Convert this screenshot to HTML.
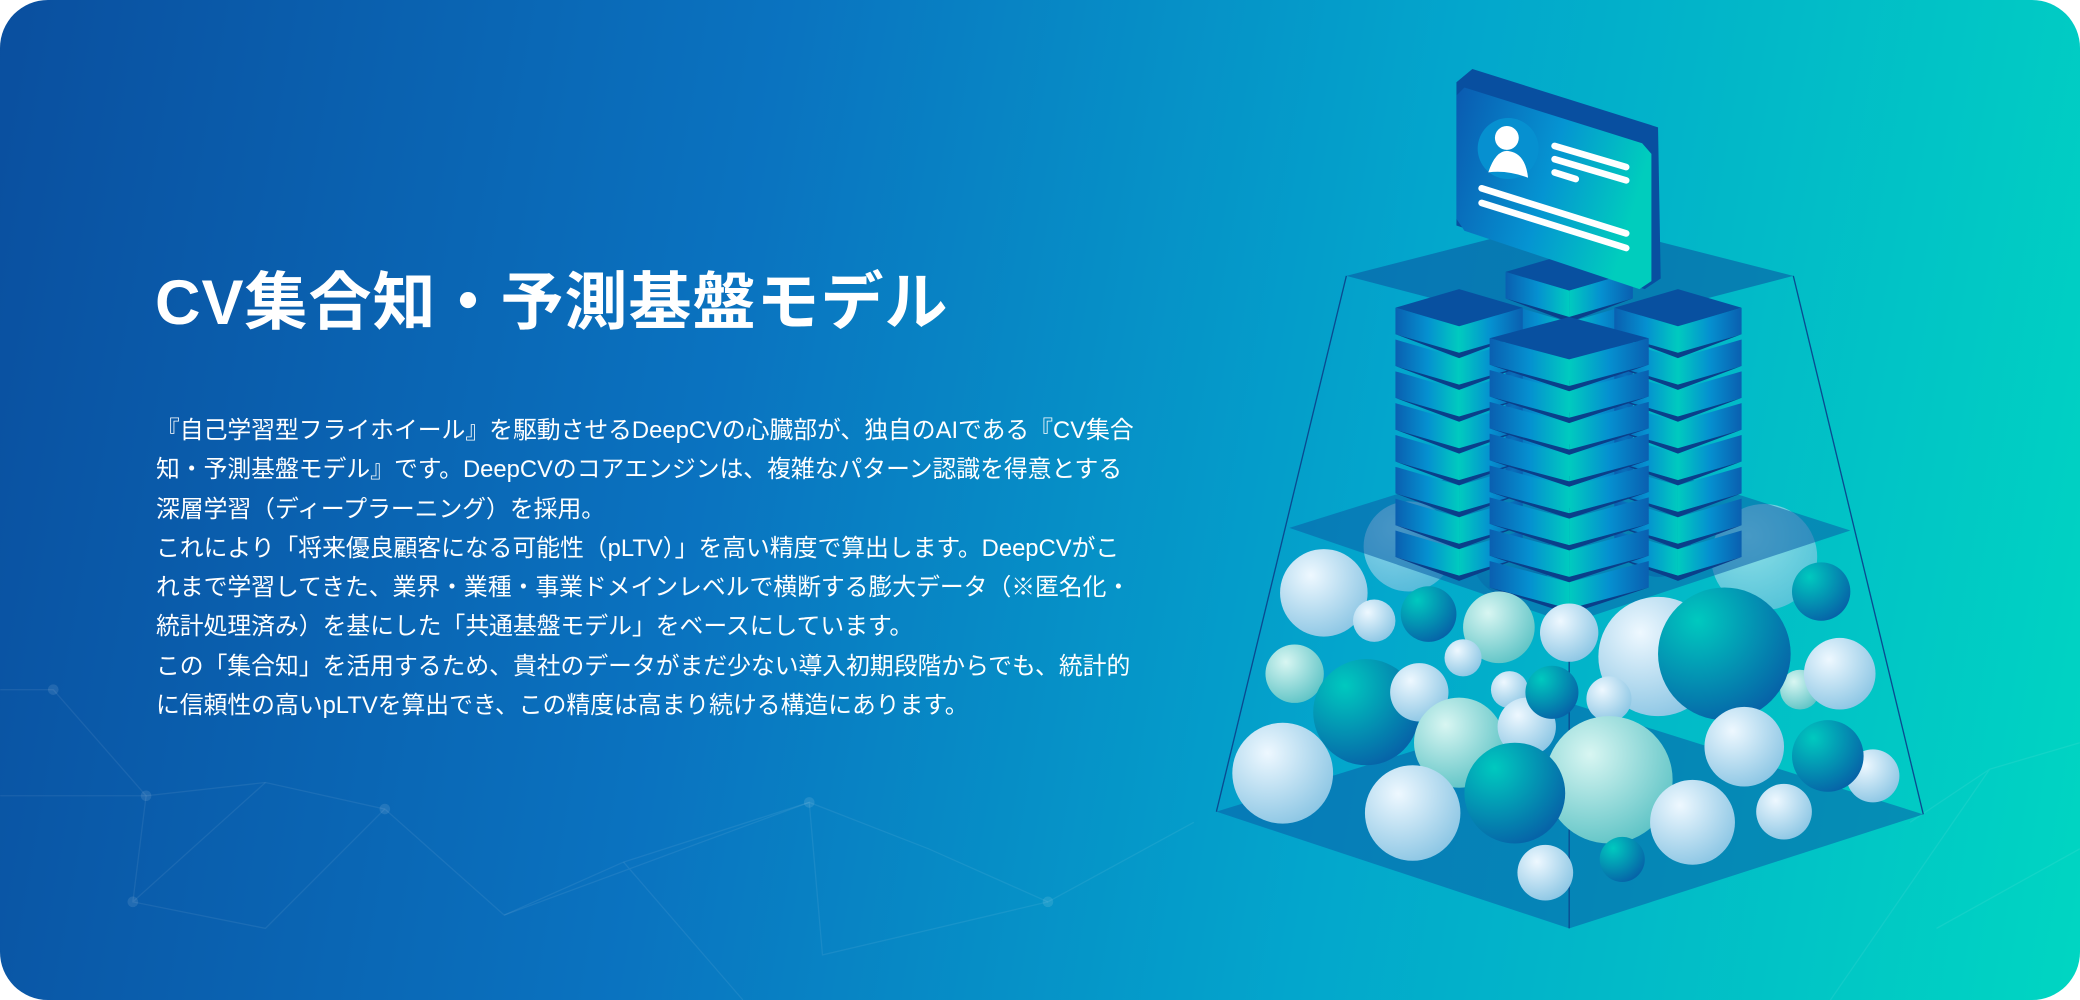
<!DOCTYPE html>
<html><head><meta charset="utf-8"><style>
html,body{margin:0;padding:0;background:#fff;}
#c{position:relative;width:2080px;height:1000px;border-radius:48px;overflow:hidden;
background:linear-gradient(100deg,#0a4f9f 0%,#0a73c0 35%,#03a6cc 65%,#00d6c2 100%);}
svg{position:absolute;left:0;top:0;}
h1{position:absolute;left:155px;top:272px;margin:0;color:#fff;font:700 63px/1 "Liberation Sans","Noto Sans CJK JP",sans-serif;letter-spacing:1px;white-space:nowrap;}
#t{position:absolute;left:156px;top:411px;color:#fff;font:400 23.8px/39.3px "Liberation Sans","Noto Sans CJK JP",sans-serif;white-space:nowrap;}
</style></head><body><div id="c">
<svg width="2080" height="1000" viewBox="0 0 1568 754">
<defs>
<radialGradient id="lt" cx="0.35" cy="0.3" r="0.75"><stop offset="0" stop-color="#eef8ff"/><stop offset="1" stop-color="#8cc6e4"/></radialGradient>
<radialGradient id="tl" cx="0.3" cy="0.25" r="0.8"><stop offset="0" stop-color="#00c9bf"/><stop offset="1" stop-color="#0664a8"/></radialGradient>
<radialGradient id="mt" cx="0.35" cy="0.3" r="0.75"><stop offset="0" stop-color="#d8f6f2"/><stop offset="1" stop-color="#5fc4c6"/></radialGradient>
<linearGradient id="lf" x1="0" x2="1"><stop offset="0" stop-color="#0a5fb0"/><stop offset="0.5" stop-color="#0590d0"/><stop offset="1" stop-color="#00cbbf"/></linearGradient>
<linearGradient id="rf" x1="0" x2="1"><stop offset="0" stop-color="#00cbbf"/><stop offset="0.5" stop-color="#0590d0"/><stop offset="1" stop-color="#0a5fb0"/></linearGradient>
<linearGradient id="cd" x1="0" x2="1" y1="0" y2="0.3"><stop offset="0" stop-color="#0a5ab0"/><stop offset="0.55" stop-color="#0594d2"/><stop offset="1" stop-color="#00cdbd"/></linearGradient>
</defs>
<g stroke="#ffffff" stroke-opacity="0.07" stroke-width="1" fill="none">
<path d="M0 520 L40 520 L110 600 L200 590 L290 610 L380 690 L470 650 L610 605 L700 640 L790 680 L900 620"/>
<path d="M0 600 L110 600 L100 680 L200 700 L290 610 M200 590 L100 680 M380 690 L610 605 L620 720 L790 680 M470 650 L560 754"/>
<path d="M1440 620 L1500 580 L1568 560 M1460 700 L1568 640 M1380 754 L1500 580"/>
</g>
<g fill="#ffffff" fill-opacity="0.1"><circle cx="40" cy="520" r="4"/><circle cx="110" cy="600" r="4"/><circle cx="290" cy="610" r="4"/><circle cx="610" cy="605" r="4"/><circle cx="100" cy="680" r="4"/><circle cx="790" cy="680" r="4"/></g>
<polygon points="917,612 1183,530 1450,614 1183,700" fill="#0a5ca8" fill-opacity="0.55"/>
<g opacity="0.6">
<circle cx="1062" cy="412" r="34" fill="url(#lt)"/><circle cx="1330" cy="420" r="40" fill="url(#lt)"/><circle cx="1250" cy="410" r="25" fill="url(#tl)"/><circle cx="1140" cy="420" r="30" fill="url(#tl)"/>
</g>
<g stroke="#0a4a90" stroke-width="1" fill="none"><line x1="1015" y1="208" x2="917" y2="612"/><line x1="1352" y1="208" x2="1450" y2="614"/><line x1="1183" y1="470" x2="1183" y2="700"/></g>
<polygon points="972,398 1183,332 1395,400 1183,470" fill="#0b5fa8" fill-opacity="0.55"/>
<polygon points="1015,208 1183,165 1352,208 1183,252" fill="#0a5aa4" fill-opacity="0.6"/>
<g id="srv"></g>
<g>
<circle cx="998" cy="447" r="33" fill="url(#lt)"/><circle cx="1036" cy="468" r="16" fill="url(#lt)"/><circle cx="1077" cy="463" r="21" fill="url(#tl)"/>
<circle cx="1130" cy="473" r="27" fill="url(#mt)"/><circle cx="1183" cy="477" r="22" fill="url(#lt)"/><circle cx="1103" cy="496" r="14" fill="url(#lt)"/>
<circle cx="976" cy="508" r="22" fill="url(#mt)"/><circle cx="1250" cy="495" r="45" fill="url(#lt)"/><circle cx="1357" cy="520" r="15" fill="url(#mt)"/>
<circle cx="1373" cy="446" r="22" fill="url(#tl)"/><circle cx="1387" cy="508" r="27" fill="url(#lt)"/>
<circle cx="1030" cy="537" r="40" fill="url(#tl)"/><circle cx="1070" cy="522" r="22" fill="url(#lt)"/><circle cx="1138" cy="520" r="14" fill="url(#lt)"/>
<circle cx="1300" cy="493" r="50" fill="url(#tl)"/><circle cx="1100" cy="560" r="34" fill="url(#mt)"/><circle cx="1151" cy="548" r="22" fill="url(#lt)"/>
<circle cx="1170" cy="522" r="20" fill="url(#tl)"/><circle cx="1213" cy="527" r="17" fill="url(#lt)"/>
<circle cx="1315" cy="563" r="30" fill="url(#lt)"/><circle cx="1412" cy="585" r="20" fill="url(#lt)"/><circle cx="1378" cy="570" r="27" fill="url(#tl)"/>
<circle cx="1213" cy="588" r="48" fill="url(#mt)"/><circle cx="1142" cy="598" r="38" fill="url(#tl)"/><circle cx="967" cy="583" r="38" fill="url(#lt)"/>
<circle cx="1065" cy="613" r="36" fill="url(#lt)"/><circle cx="1276" cy="620" r="32" fill="url(#lt)"/><circle cx="1345" cy="612" r="21" fill="url(#lt)"/>
<circle cx="1165" cy="658" r="21" fill="url(#lt)"/><circle cx="1223" cy="648" r="17" fill="url(#tl)"/>
</g>
<polygon points="1098,62 1110,52 1250,96 1252,210 1240,218 1098,170" fill="#084fa0"/>
<polygon points="1104,66 1238,108 1245,116 1245,212 1236,218 1104,174 1098,165 1098,72" fill="url(#cd)"/>
<circle cx="1137" cy="112" r="23" fill="#0690d0"/>
<circle cx="1136" cy="104" r="9" fill="#fff"/><path d="M1122 130 Q1128 112 1138 114 Q1150 116 1152 134 Q1136 128 1122 130Z" fill="#fff"/>
<g stroke="#fff" stroke-width="5" stroke-linecap="round"><line x1="1172" y1="110" x2="1226" y2="126"/><line x1="1172" y1="120" x2="1226" y2="136"/><line x1="1172" y1="130" x2="1188" y2="135"/><line x1="1117" y1="142" x2="1226" y2="176"/><line x1="1117" y1="153" x2="1226" y2="187"/></g>
</svg>
<h1>CV集合知・予測基盤モデル</h1>
<div id="t">『自己学習型フライホイール』を駆動させるDeepCVの心臓部が、独自のAIである『CV集合<br>知・予測基盤モデル』です。DeepCVのコアエンジンは、複雑なパターン認識を得意とする<br>深層学習（ディープラーニング）を採用。<br>これにより「将来優良顧客になる可能性（pLTV）」を高い精度で算出します。DeepCVがこ<br>れまで学習してきた、業界・業種・事業ドメインレベルで横断する膨大データ（※匿名化・<br>統計処理済み）を基にした「共通基盤モデル」をベースにしています。<br>この「集合知」を活用するため、貴社のデータがまだ少ない導入初期段階からでも、統計的<br>に信頼性の高いpLTVを算出でき、この精度は高まり続ける構造にあります。</div>
</div>
<script>
(function(){
var g=document.getElementById('srv'),s='';
function col(cx,top,hw,hh,n){
 for(var i=n-1;i>=0;i--){var y=top+i*24,h=20;
  s+='<polygon points="'+(cx-hw)+','+y+' '+cx+','+(y+hh)+' '+cx+','+(y+hh+h)+' '+(cx-hw)+','+(y+h)+'" fill="url(#lf)"/>';
  s+='<polygon points="'+cx+','+(y+hh)+' '+(cx+hw)+','+y+' '+(cx+hw)+','+(y+h)+' '+cx+','+(y+hh+h)+'" fill="url(#rf)"/>';
  s+='<polygon points="'+(cx-hw)+','+(y+h)+' '+cx+','+(y+hh+h)+' '+(cx+hw)+','+(y+h)+' '+cx+','+(y+hh+h+4)+'" fill="#0a3f8a"/>';}
 s+='<polygon points="'+(cx-hw)+','+top+' '+cx+','+(top-hh)+' '+(cx+hw)+','+top+' '+cx+','+(top+hh)+'" fill="#0850a0"/>';
}
col(1183,205,48,14,7);col(1100,232,48,14,8);col(1265,232,48,14,8);col(1183,255,60,16,8);
g.innerHTML=s;})();
</script>
</body></html>
